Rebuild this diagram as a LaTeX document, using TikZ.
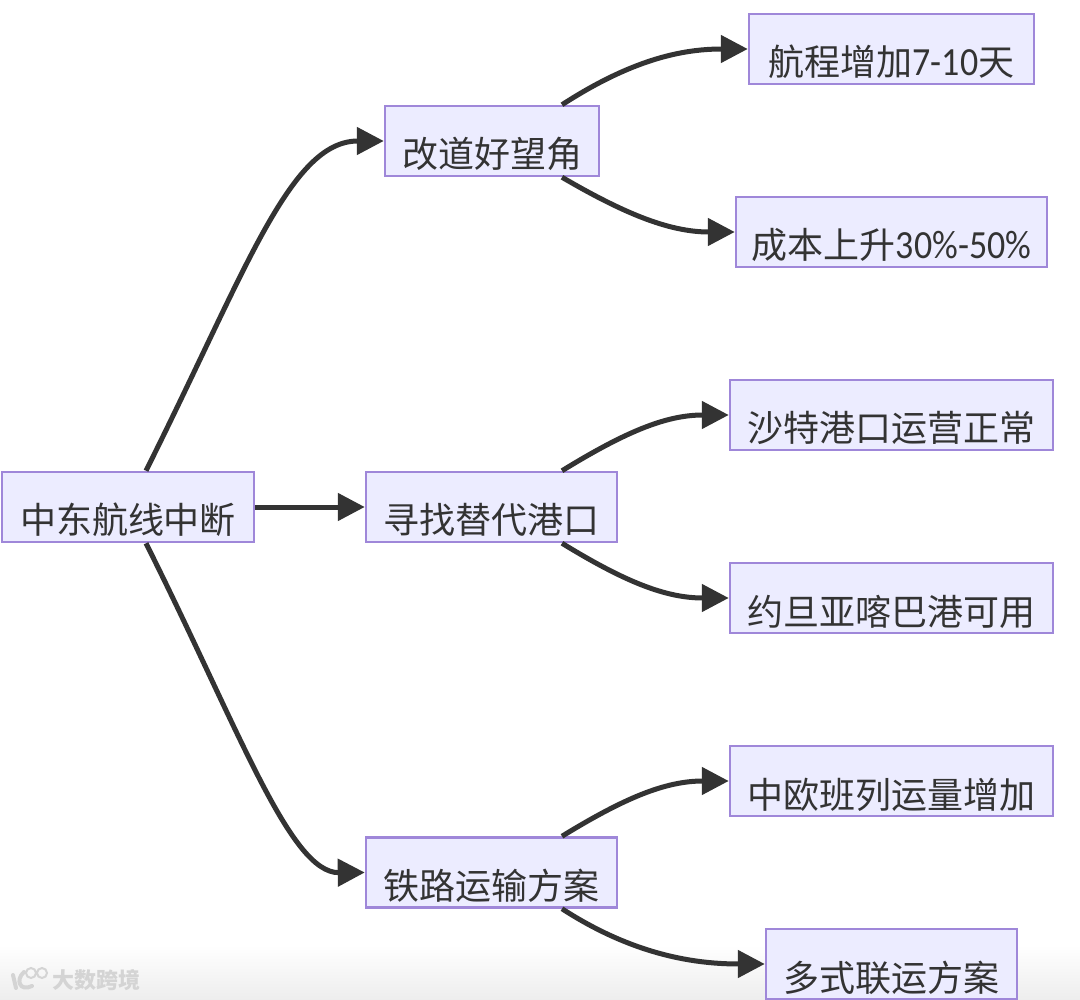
\documentclass[tikz,border=0pt]{standalone}
\usepackage{fontspec}
\usetikzlibrary{arrows.meta,positioning}
\newfontfamily\cjkfont{Noto Sans CJK SC}
\newfontfamily\numfont[FakeStretch=0.9,Scale=1.11]{Carlito}
\definecolor{nodefill}{HTML}{ECECFF}
\definecolor{nodeline}{HTML}{9F87D9}
\definecolor{ink}{HTML}{333333}
\definecolor{marktext}{HTML}{D4D4D4}
\newcommand{\boxlabel}[1]{\raisebox{-27pt}[0pt][0pt]{#1}}
\tikzset{
  x=1pt,y=-1pt,
  flow/.style={draw=nodeline,fill=nodefill,line width=2.5pt,rectangle,inner sep=0pt,
    minimum height=70pt,text=ink,font=\cjkfont\fontsize{36}{36}\selectfont,anchor=center},
  link/.style={draw=ink,line width=5pt,-{Triangle[length=27pt,width=27pt]}}
}
\begin{document}
\begin{tikzpicture}
\useasboundingbox (0,0) rectangle (1080,1000);
\fill[white] (0,0) rectangle (1080,1000);
\shade[top color=white,bottom color=black!7] (0,945) rectangle (1080,1000);

\node[flow,minimum width=252pt] (a) at (128,507) {\boxlabel{中东航线中断}};
\node[flow,minimum width=214pt] (b1) at (492,141) {\boxlabel{改道好望角}};
\node[flow,minimum width=251pt] (b2) at (491.5,507) {\boxlabel{寻找替代港口}};
\node[flow,minimum width=251pt] (b3) at (491.5,872.5) {\boxlabel{铁路运输方案}};
\node[flow,minimum width=285pt] (c1) at (891.5,49) {\boxlabel{航程增加{\numfont 7-10}天}};
\node[flow,minimum width=311pt] (c2) at (891.5,232) {\boxlabel{成本上升{\numfont 30\%-50\%}}};
\node[flow,minimum width=323pt] (c3) at (891.5,415) {\boxlabel{沙特港口运营正常}};
\node[flow,minimum width=323pt] (c4) at (891.5,598) {\boxlabel{约旦亚喀巴港可用}};
\node[flow,minimum width=323pt] (c5) at (891.5,781) {\boxlabel{中欧班列运量增加}};
\node[flow,minimum width=251pt] (c6) at (891.5,964) {\boxlabel{多式联运方案}};

\draw[link] ([xshift=18pt]a.north) .. controls +(100,-200) and (290,141) .. (b1.west);
\draw[link] (a.east) -- (b2.west);
\draw[link] ([xshift=18pt]a.south) .. controls +(94,188) and (290,873) .. (b3.west);

\draw[link] ([xshift=70pt]b1.north) .. controls +(68,-44) and (680,49) .. (c1.west);
\draw[link] ([xshift=70pt]b1.south) .. controls +(60,35) and (668,232) .. (c2.west);
\draw[link] ([xshift=70.5pt]b2.north) .. controls +(62,-38) and (665,415) .. (c3.west);
\draw[link] ([xshift=70.5pt]b2.south) .. controls +(62,38) and (665,598) .. (c4.west);
\draw[link] ([xshift=70.5pt]b3.north) .. controls +(62,-38) and (665,781) .. (c5.west);
\draw[link] ([xshift=70.5pt]b3.south) .. controls +(68,44) and (690,964) .. (c6.west);

\node[text=marktext,font=\cjkfont\bfseries\fontsize{22}{22}\selectfont,anchor=west,inner sep=0pt] (wm) at (52,980) {大数跨境};
\draw[marktext,line width=4pt,line cap=round] (13,975) -- (16,988) (24,972) .. controls (15,980) and (20,992) .. (32,986);
\draw[marktext,line width=2pt] (31,973) circle (5pt) (42,973) circle (5pt);
\end{tikzpicture}
\end{document}
